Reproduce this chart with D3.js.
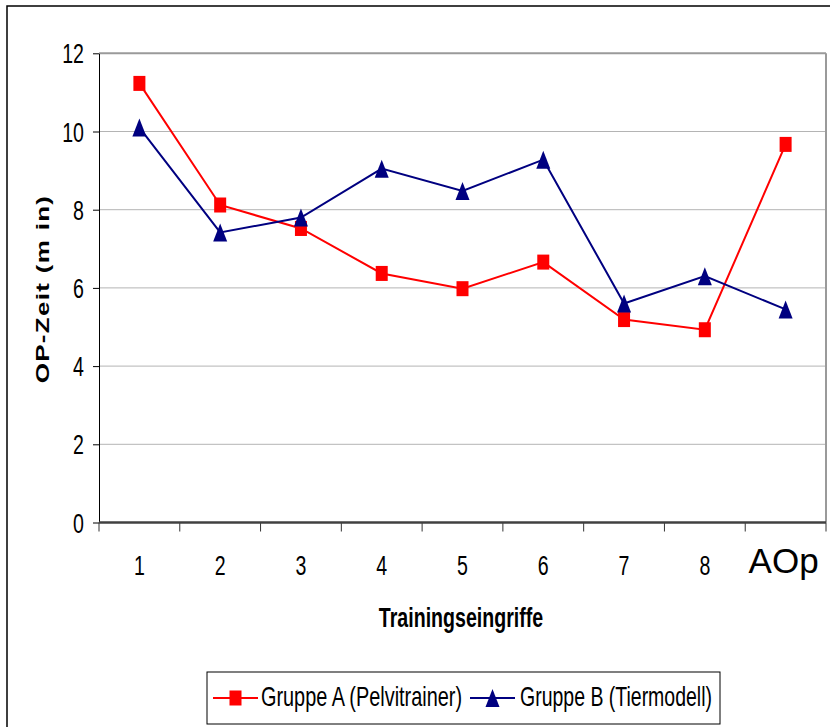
<!DOCTYPE html>
<html>
<head>
<meta charset="utf-8">
<script src="https://cdn.jsdelivr.net/npm/d3@7"></script>
<style>
  html, body { margin: 0; padding: 0; background: #fff; }
  text { font-family: "Liberation Sans", Arial, sans-serif; fill: #000; }
</style>
</head>
<body>
<svg id="chart" width="830" height="727"></svg>
<script>
// Data
const categories = ['1', '2', '3', '4', '5', '6', '7', '8', 'AOp'];
const gruppeA = [11.23, 8.12, 7.52, 6.37, 5.98, 6.66, 5.19, 4.93, 9.67];
const gruppeB = [10.1, 7.42, 7.8, 9.05, 8.48, 9.28, 5.6, 6.3, 5.45];
const yTicks = [0, 2, 4, 6, 8, 10, 12];
const seriesNames = ['Gruppe A (Pelvitrainer)', 'Gruppe B (Tiermodell)'];

// the whole picture is squeezed horizontally
const SX = 0.7;

const svg = d3.select('#chart');
const plot = { left: 99, right: 826, top: 53.3, bottom: 522.5 };

const x = d3.scaleBand().domain(categories).range([plot.left, plot.right]);
const y = d3.scaleLinear().domain([0, 12]).range([plot.bottom, plot.top]);
const cx = d => x(d) + x.bandwidth() / 2;

// outer frame
svg.append('rect')
    .attr('x', 7).attr('y', 6)
    .attr('width', 840).attr('height', 740)
    .attr('fill', 'none').attr('stroke', '#000').attr('stroke-width', 1.5);

// grid lines
svg.append('g').selectAll('line')
    .data(yTicks.filter(t => t > 0 && t < 12))
    .enter().append('line')
    .attr('x1', plot.left).attr('x2', plot.right)
    .attr('y1', d => y(d)).attr('y2', d => y(d))
    .attr('stroke', '#b4b4b4').attr('stroke-width', 1);

// top and right border of plot area
svg.append('line')
    .attr('x1', plot.left).attr('x2', plot.right)
    .attr('y1', y(12)).attr('y2', y(12))
    .attr('stroke', '#9a9a9a').attr('stroke-width', 2);
svg.append('line')
    .attr('x1', plot.right).attr('x2', plot.right)
    .attr('y1', y(12)).attr('y2', y(0))
    .attr('stroke', '#9a9a9a').attr('stroke-width', 2);

// y axis
const yAxis = svg.append('g')
    .attr('transform', `translate(${plot.left},0)`)
    .call(d3.axisLeft(y).tickValues(yTicks).tickSize(6).tickSizeOuter(0).tickFormat(''));
yAxis.select('.domain').attr('stroke', '#000').attr('stroke-width', 1);
yAxis.selectAll('.tick line').attr('stroke', '#000');

svg.append('g').selectAll('g')
    .data(yTicks)
    .enter().append('g')
    .attr('transform', d => `translate(${plot.left - 15},${y(d) + 10}) scale(${SX},1)`)
    .append('text')
    .attr('text-anchor', 'end')
    .style('font-size', '28px')
    .text(d => d);

// x axis (ticks at band boundaries)
const xEdges = categories.map(c => x(c)).concat([plot.right]);
svg.append('g').selectAll('line')
    .data(xEdges)
    .enter().append('line')
    .attr('x1', d => d).attr('x2', d => d)
    .attr('y1', y(0)).attr('y2', y(0) + 9)
    .attr('stroke', '#333').attr('stroke-width', 1);
svg.append('line')
    .attr('x1', plot.left).attr('x2', plot.right)
    .attr('y1', y(0)).attr('y2', y(0))
    .attr('stroke', '#404040').attr('stroke-width', 2.5);

svg.append('g').selectAll('g')
    .data(categories.slice(0, 8))
    .enter().append('g')
    .attr('transform', d => `translate(${cx(d)},575) scale(${SX},1)`)
    .append('text')
    .attr('text-anchor', 'middle')
    .style('font-size', '28px')
    .text(d => d);

svg.append('text')
    .attr('x', cx('AOp') - 2).attr('y', 573)
    .attr('text-anchor', 'middle')
    .style('font-size', '35px')
    .text('AOp');

// axis titles
svg.append('g')
    .attr('transform', `translate(461,626.5) scale(${SX},1)`)
    .append('text')
    .attr('text-anchor', 'middle')
    .style('font-size', '28px').style('font-weight', 'bold')
    .text('Trainingseingriffe');

svg.append('g')
    .attr('transform', `translate(49,289) rotate(-90) scale(1,${SX})`)
    .append('text')
    .attr('text-anchor', 'middle')
    .style('font-size', '26px').style('font-weight', 'bold')
    .style('letter-spacing', '1.3px')
    .text('OP-Zeit (m in)');

// markers
const squareMarker = (g, fill) => g.append('rect')
    .attr('x', -6).attr('y', -7.5).attr('width', 12).attr('height', 15)
    .attr('fill', fill);
const triangleMarker = (g, fill) => g.append('path')
    .attr('d', 'M0,-9L7,9L-7,9Z')
    .attr('fill', fill);

const series = [
    { name: seriesNames[0], values: gruppeA, color: '#ff0000', marker: squareMarker },
    { name: seriesNames[1], values: gruppeB, color: '#000080', marker: triangleMarker }
];

const line = d3.line()
    .x((d, i) => cx(categories[i]))
    .y(d => y(d));

series.forEach(s => {
    svg.append('path')
        .datum(s.values)
        .attr('d', line)
        .attr('fill', 'none')
        .attr('stroke', s.color)
        .attr('stroke-width', 2);
    svg.append('g').selectAll('g')
        .data(s.values)
        .enter().append('g')
        .attr('transform', (d, i) => `translate(${cx(categories[i])},${y(d)})`)
        .each(function () { s.marker(d3.select(this), s.color); });
});

// legend
const legend = svg.append('g');
legend.append('rect')
    .attr('x', 207).attr('y', 672)
    .attr('width', 513).attr('height', 52)
    .attr('fill', '#fff').attr('stroke', '#000').attr('stroke-width', 1);

const legendItems = [
    { s: series[0], x0: 213, tx: 261, w: 201 },
    { s: series[1], x0: 470, tx: 520, w: 192 }
];
legendItems.forEach(item => {
    legend.append('line')
        .attr('x1', item.x0).attr('x2', item.x0 + 45)
        .attr('y1', 698).attr('y2', 698)
        .attr('stroke', item.s.color).attr('stroke-width', 2);
    const m = legend.append('g').attr('transform', `translate(${item.x0 + 22.5},698)`);
    item.s.marker(m, item.s.color);
    legend.append('text')
        .attr('x', item.tx).attr('y', 706)
        .attr('textLength', item.w).attr('lengthAdjust', 'spacingAndGlyphs')
        .style('font-size', '28px')
        .text(item.s.name);
});
</script>
</body>
</html>
